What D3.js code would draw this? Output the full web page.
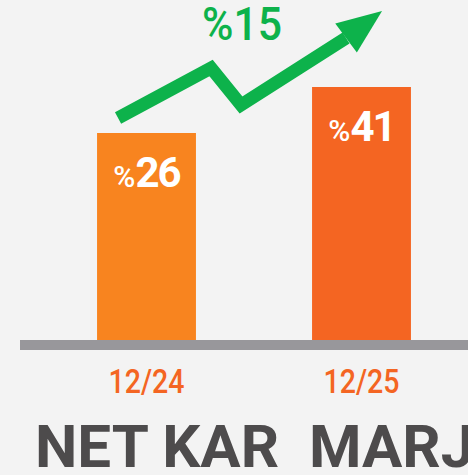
<!DOCTYPE html>
<html>
<head>
<meta charset="utf-8">
<script src="https://cdn.jsdelivr.net/npm/d3@7"></script>
<style>
  html, body { margin: 0; padding: 0; background: #f3f3f3; }
  svg { display: block; }
</style>
</head>
<body>
<div id="chart"></div>
<script>
// veriler
const categories = ['12/24', '12/25'];
const values = [26, 41];
const growth = 15;
const title = 'NET KAR\u00A0\u00A0MARJI';

const width = 468;
const height = 475;
const baseY = 340;

const barColors = ['#f8841f', '#f46522'];
const green = '#0db24b';

const svg = d3.select('#chart').append('svg')
  .attr('width', width)
  .attr('height', height);

// arka plan
svg.append('rect')
  .attr('width', width)
  .attr('height', height)
  .attr('fill', '#f3f3f3');

// ölçekler
const x = d3.scaleBand()
  .domain(categories)
  .range([39, 469])
  .paddingInner(0.54)
  .paddingOuter(0.27);

// y ekseni sıfırdan başlamıyor (orijinal görsel öyle)
const y = d3.scaleLinear()
  .domain([-41.5, 41])
  .range([baseY, 87]);

// çubuklar
svg.append('g')
  .selectAll('rect')
  .data(values)
  .join('rect')
  .attr('x', (d, i) => x(categories[i]))
  .attr('y', d => y(d))
  .attr('width', x.bandwidth())
  .attr('height', d => baseY - y(d))
  .attr('fill', (d, i) => barColors[i]);

// taban çizgisi
svg.append('rect')
  .attr('x', 20)
  .attr('y', baseY)
  .attr('width', width - 20)
  .attr('height', 10)
  .attr('fill', '#98979b');

// değer etiketleri
const vl = svg.append('g')
  .selectAll('text')
  .data(values)
  .join('text')
  .attr('x', (d, i) => x(categories[i]) + x.bandwidth() / 2)
  .attr('y', d => y(d) + 54)
  .attr('text-anchor', 'middle')
  .attr('fill', '#fff')
  .attr('font-family', 'Roboto, sans-serif');
vl.append('tspan')
  .attr('font-size', 30)
  .attr('font-weight', 500)
  .text('%');
vl.append('tspan')
  .attr('font-size', 42)
  .attr('font-weight', 700)
  .attr('letter-spacing', -2)
  .text(d => d);

// kategori etiketleri
svg.append('g')
  .selectAll('text')
  .data(categories)
  .join('text')
  .attr('x', d => x(d) + x.bandwidth() / 2)
  .attr('y', 393)
  .attr('text-anchor', 'middle')
  .attr('fill', '#f46522')
  .attr('font-family', 'Roboto, sans-serif')
  .attr('font-size', 34)
  .attr('font-weight', 500)
  .attr('textLength', 76)
  .attr('lengthAdjust', 'spacingAndGlyphs')
  .text(d => d);

// ok (çubuklara göre)
const x0 = x(categories[0]);
const x1 = x(categories[1]);
const y0 = y(values[0]);
const y1 = y(values[1]);
const arrowPts = [
  [x0 + 21, y0 - 15],
  [x0 + 114, y0 - 65],
  [x0 + 144, y0 - 28],
  [x1 + 34, y1 - 49]
];
const tip = [x1 + 70, y1 - 76];

svg.append('path')
  .attr('d', d3.line()(arrowPts))
  .attr('fill', 'none')
  .attr('stroke', green)
  .attr('stroke-width', 13)
  .attr('stroke-linejoin', 'miter');

const base = arrowPts[arrowPts.length - 1];
const dx = tip[0] - base[0];
const dy = tip[1] - base[1];
const len = Math.hypot(dx, dy);
const px = -dy / len;
const py = dx / len;
const hw = 18;
svg.append('path')
  .attr('d', d3.line()([
    tip,
    [base[0] + px * hw, base[1] + py * hw],
    [base[0] - px * hw, base[1] - py * hw]
  ]) + 'Z')
  .attr('fill', green);

// büyüme etiketi
svg.append('text')
  .attr('x', (x0 + x1 + x.bandwidth()) / 2 - 12)
  .attr('y', 40)
  .attr('text-anchor', 'middle')
  .attr('fill', green)
  .attr('font-family', 'Roboto, sans-serif')
  .attr('font-size', 46)
  .attr('font-weight', 500)
  .attr('textLength', 80)
  .attr('lengthAdjust', 'spacingAndGlyphs')
  .text('%' + growth);

// başlık
svg.append('text')
  .attr('x', 35)
  .attr('y', 467)
  .attr('fill', '#4d4b4c')
  .attr('font-family', 'Roboto, sans-serif')
  .attr('font-size', 60)
  .attr('font-weight', 700)
  .text(title);
</script>
</body>
</html>
